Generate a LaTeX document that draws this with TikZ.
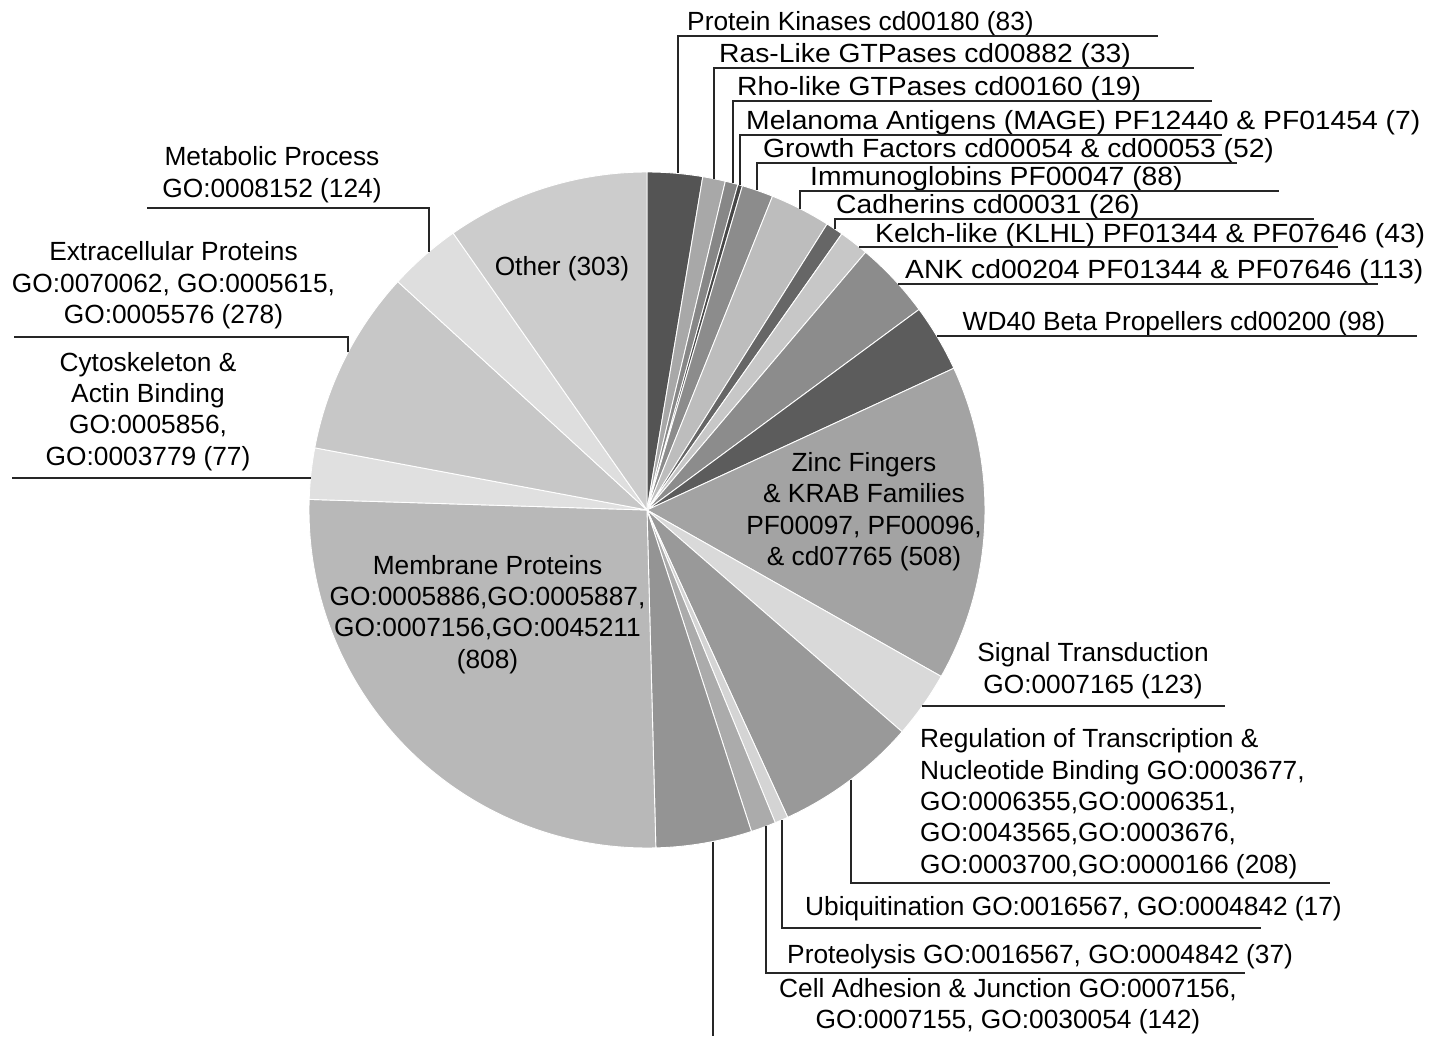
\documentclass[tikz,border=0pt]{standalone}
\usepackage{fontspec}
\setmainfont{Liberation Sans}
\newfontfamily\widefont{Liberation Sans}[FakeStretch=1.075]
\usepackage{tikz}
\tikzset{
  slice/.style={draw=white, line width=0.9},
  leader/.style={draw=black!85, line width=2.6},
  lbl/.style={inner sep=0, font=\fontsize{26.3}{31.3}\selectfont},
  toplbl/.style={lbl, anchor=base west},
  widelbl/.style={toplbl, font=\widefont\fontsize{26.3}{31.3}\selectfont},
  sidelbl/.style={lbl, anchor=base, align=center},
}

\begin{document}
\begin{tikzpicture}[x=1pt, y=-1pt]
  \useasboundingbox (0,0) rectangle (1440,1036);
  \coordinate (c) at (647,510);

  \filldraw[slice, fill=black!67] (c) -- ++(-90:338)   arc[start angle=-90,   end angle=-80.5, radius=338] -- cycle;
  \filldraw[slice, fill=black!34] (c) -- ++(-80.5:338) arc[start angle=-80.5, end angle=-76.6, radius=338] -- cycle;
  \filldraw[slice, fill=black!47] (c) -- ++(-76.6:338) arc[start angle=-76.6, end angle=-74.4, radius=338] -- cycle;
  \filldraw[slice, fill=black!72] (c) -- ++(-74.4:338) arc[start angle=-74.4, end angle=-73.6, radius=338] -- cycle;
  \filldraw[slice, fill=black!45] (c) -- ++(-73.6:338) arc[start angle=-73.6, end angle=-68.2, radius=338] -- cycle;
  \filldraw[slice, fill=black!26] (c) -- ++(-68.2:338) arc[start angle=-68.2, end angle=-57.8, radius=338] -- cycle;
  \filldraw[slice, fill=black!60] (c) -- ++(-57.8:338) arc[start angle=-57.8, end angle=-54.8, radius=338] -- cycle;
  \filldraw[slice, fill=black!22] (c) -- ++(-54.8:338) arc[start angle=-54.8, end angle=-49.7, radius=338] -- cycle;
  \filldraw[slice, fill=black!45] (c) -- ++(-49.7:338) arc[start angle=-49.7, end angle=-36.4, radius=338] -- cycle;
  \filldraw[slice, fill=black!64] (c) -- ++(-36.4:338) arc[start angle=-36.4, end angle=-24.8, radius=338] -- cycle;
  \filldraw[slice, fill=black!36] (c) -- ++(-24.8:338) arc[start angle=-24.8, end angle=29.5,  radius=338] -- cycle;
  \filldraw[slice, fill=black!15] (c) -- ++(29.5:338)  arc[start angle=29.5,  end angle=41,    radius=338] -- cycle;
  \filldraw[slice, fill=black!40] (c) -- ++(41:338)    arc[start angle=41,    end angle=65.4,  radius=338] -- cycle;
  \filldraw[slice, fill=black!17] (c) -- ++(65.4:338)  arc[start angle=65.4,  end angle=67.7,  radius=338] -- cycle;
  \filldraw[slice, fill=black!33] (c) -- ++(67.7:338)  arc[start angle=67.7,  end angle=72,    radius=338] -- cycle;
  \filldraw[slice, fill=black!42] (c) -- ++(72:338)    arc[start angle=72,    end angle=88.5,  radius=338] -- cycle;
  \filldraw[slice, fill=black!28] (c) -- ++(88.5:338)  arc[start angle=88.5,  end angle=181.8, radius=338] -- cycle;
  \filldraw[slice, fill=black!12] (c) -- ++(181.8:338) arc[start angle=181.8, end angle=190.6, radius=338] -- cycle;
  \filldraw[slice, fill=black!22] (c) -- ++(190.6:338) arc[start angle=190.6, end angle=222.5, radius=338] -- cycle;
  \filldraw[slice, fill=black!13] (c) -- ++(222.5:338) arc[start angle=222.5, end angle=235,   radius=338] -- cycle;
  \filldraw[slice, fill=black!20] (c) -- ++(235:338)   arc[start angle=235,   end angle=270,   radius=338] -- cycle;

  \coordinate (pkpt)    at (678,173.4);  \coordinate (pkend)    at (1158,36);
  \coordinate (raspt)   at (714,178.7);  \coordinate (rasend)   at (1194,68);
  \coordinate (rhopt)   at (733,183.1);  \coordinate (rhoend)   at (1212,101);
  \coordinate (magept)  at (740,185.1);  \coordinate (mageend)  at (1222,135);
  \coordinate (gfpt)    at (757,190.4);  \coordinate (gfend)    at (1237,163);
  \coordinate (immpt)   at (800,208.6);  \coordinate (immend)   at (1279,191);
  \coordinate (cadpt)   at (835,229.1);  \coordinate (cadend)   at (1314,219);
  \coordinate (kelchpt) at (859,247);    \coordinate (kelchend) at (1338,247);
  \coordinate (ankpt)   at (898,284);    \coordinate (ankend)   at (1378,284);
  \coordinate (wdpt)    at (937,336);    \coordinate (wdend)    at (1417,336);
  \coordinate (metpt)   at (429,251.7);  \coordinate (metend)   at (147,208);
  \coordinate (extpt)   at (348,352.4);  \coordinate (extend)   at (14,337);
  \coordinate (cytopt)  at (310.5,478);  \coordinate (cytoend)  at (12,478);
  \coordinate (sigpt)   at (922.4,706);  \coordinate (sigend)   at (1225,706);
  \coordinate (regpt)   at (851,779.5);  \coordinate (regend)   at (1330,883);
  \coordinate (ubqpt)   at (782,819.9);  \coordinate (ubqend)   at (1261,928);
  \coordinate (protpt)  at (766,826.4);  \coordinate (protend)  at (1245,973);
  \coordinate (cellpt)  at (713,841.5);  \coordinate (cellend)  at (713,1036);

  \node (pk)    [toplbl]  at (687,30.5)  {Protein Kinases cd00180 (83)};
  \node (ras)   [widelbl] at (719,62.5)  {Ras-Like GTPases cd00882 (33)};
  \node (rho)   [widelbl] at (737,95.5)  {Rho-like GTPases cd00160 (19)};
  \node (mage)  [widelbl] at (746,129.5) {Melanoma Antigens (MAGE) PF12440 \& PF01454 (7)};
  \node (gf)    [widelbl] at (763,157.5) {Growth Factors cd00054 \& cd00053 (52)};
  \node (imm)   [widelbl] at (810,185.5) {Immunoglobins PF00047 (88)};
  \node (cad)   [widelbl] at (836,213.5) {Cadherins cd00031 (26)};
  \node (kelch) [widelbl] at (875,242)   {Kelch-like (KLHL) PF01344 \& PF07646 (43)};
  \node (ank)   [widelbl] at (905,278)   {ANK cd00204 PF01344 \& PF07646 (113)};
  \node (wd)    [toplbl]  at (962.5,330) {WD40 Beta Propellers cd00200 (98)};

  \node (met)   [sidelbl] at (272,197)   {Metabolic Process\\GO:0008152 (124)};
  \node (ext)   [sidelbl] at (173.5,323.5) {Extracellular Proteins\\GO:0070062, GO:0005615,\\GO:0005576 (278)};
  \node (cyto)  [sidelbl] at (148,465)   {Cytoskeleton \&\\Actin Binding\\GO:0005856,\\GO:0003779 (77)};
  \node (other) [sidelbl] at (562,275)   {Other (303)};
  \node (zinc)  [sidelbl] at (864,565.5) {Zinc Fingers\\\& KRAB Families\\PF00097, PF00096,\\\& cd07765 (508)};
  \node (memb)  [sidelbl] at (487.5,668) {Membrane Proteins\\GO:0005886,GO:0005887,\\GO:0007156,GO:0045211\\(808)};
  \node (sig)   [sidelbl] at (1093,693)  {Signal Transduction\\GO:0007165 (123)};
  \node (reg)   [toplbl, align=left] at (920,873) {Regulation of Transcription \&\\Nucleotide Binding GO:0003677,\\GO:0006355,GO:0006351,\\GO:0043565,GO:0003676,\\GO:0003700,GO:0000166 (208)};
  \node (ubq)   [toplbl]  at (805,915)   {Ubiquitination GO:0016567, GO:0004842 (17)};
  \node (prot)  [toplbl]  at (787,963)   {Proteolysis GO:0016567, GO:0004842 (37)};
  \node (cell)  [sidelbl] at (1008,1028.5) {Cell Adhesion \& Junction GO:0007156,\\GO:0007155, GO:0030054 (142)};

  \draw [leader] (pkpt)    |- (pkend);
  \draw [leader] (raspt)   |- (rasend);
  \draw [leader] (rhopt)   |- (rhoend);
  \draw [leader] (magept)  |- (mageend);
  \draw [leader] (gfpt)    |- (gfend);
  \draw [leader] (immpt)   |- (immend);
  \draw [leader] (cadpt)   |- (cadend);
  \draw [leader] (kelchpt) -- (kelchend);
  \draw [leader] (ankpt)   -- (ankend);
  \draw [leader] (wdpt)    -- (wdend);
  \draw [leader] (metpt)   |- (metend);
  \draw [leader] (extpt)   |- (extend);
  \draw [leader] (cytopt)  -- (cytoend);
  \draw [leader] (sigpt)   -- (sigend);
  \draw [leader] (regpt)   |- (regend);
  \draw [leader] (ubqpt)   |- (ubqend);
  \draw [leader] (protpt)  |- (protend);
  \draw [leader] (cellpt)  -- (cellend);
\end{tikzpicture}
\end{document}
